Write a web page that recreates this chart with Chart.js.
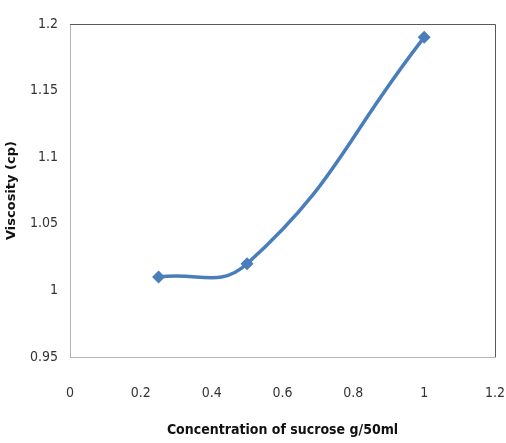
<!DOCTYPE html>
<html>
<head>
<meta charset="utf-8">
<script src="https://cdn.jsdelivr.net/npm/chart.js@4"></script>
<style>
  html, body { margin: 0; padding: 0; background: #fff; }
  #wrap { width: 506px; height: 443px; }
</style>
</head>
<body>
<div id="wrap"><canvas id="viscChart" width="506" height="443"></canvas></div>
<script>
const concentration = [0.25, 0.5, 1];
const viscosity = [1.01, 1.02, 1.19];
const xTicks = [0, 0.2, 0.4, 0.6, 0.8, 1, 1.2];
const yTicks = [0.95, 1, 1.05, 1.1, 1.15, 1.2];

const lineColor = '#4a7ebb';
const tickFont = { family: 'DejaVu Sans Condensed, Liberation Sans', size: 14 };

// dark border on top and right of plot area, like the Excel chart
const plotBorder = {
    id: 'plotBorder',
    afterDraw(chart) {
        const a = chart.chartArea;
        const ctx = chart.ctx;
        ctx.save();
        ctx.strokeStyle = '#595959';
        ctx.lineWidth = 1;
        ctx.beginPath();
        ctx.moveTo(a.left, a.top + 0.5);
        ctx.lineTo(a.right + 0.5, a.top + 0.5);
        ctx.lineTo(a.right + 0.5, a.bottom);
        ctx.stroke();
        ctx.restore();
    }
};

window.onload = () => {
    const ctx = document.getElementById('viscChart').getContext('2d');
    new Chart(ctx, {
        type: 'line',
        data: {
            datasets: [{
                label: 'Viscosity',
                data: concentration.map((x, i) => ({ x: x, y: viscosity[i] })),
                borderColor: lineColor,
                backgroundColor: lineColor,
                borderWidth: 3.5,
                tension: 0.45,
                pointStyle: 'rectRot',
                pointRadius: 6.5,
                pointBorderWidth: 0,
                fill: false
            }]
        },
        options: {
            responsive: false,
            animation: false,
            layout: { padding: { top: 24, right: 11, left: 0, bottom: 0 } },
            plugins: {
                legend: { display: false },
                tooltip: { enabled: false }
            },
            scales: {
                x: {
                    type: 'linear',
                    min: 0,
                    max: 1.2,
                    afterBuildTicks: axis => { axis.ticks = xTicks.map(v => ({ value: v })); },
                    afterFit: axis => {
                        axis.height = 86;
                        axis.paddingLeft = 0;
                        axis.paddingRight = 0;
                    },
                    grid: { display: false, drawTicks: false },
                    border: { color: '#b3b3b3', width: 1 },
                    ticks: {
                        padding: 28,
                        color: '#333',
                        font: tickFont,
                        callback: v => String(v)
                    },
                    title: {
                        display: true,
                        text: 'Concentration of sucrose g/50ml',
                        color: '#111',
                        padding: { top: 14 },
                        font: { family: 'DejaVu Sans Condensed, Liberation Sans', size: 14, weight: 'bold' }
                    }
                },
                y: {
                    min: 0.95,
                    max: 1.2,
                    afterBuildTicks: axis => { axis.ticks = yTicks.map(v => ({ value: v })); },
                    afterFit: axis => {
                        axis.width = 70;
                        axis.paddingTop = 0;
                        axis.paddingBottom = 0;
                    },
                    grid: { display: false, drawTicks: false },
                    border: { color: '#b3b3b3', width: 1 },
                    ticks: {
                        padding: 12,
                        color: '#333',
                        font: tickFont,
                        callback: v => String(v)
                    },
                    title: {
                        display: true,
                        text: 'Viscosity (cp)',
                        color: '#111',
                        padding: { bottom: 0 },
                        font: { family: 'DejaVu Sans', size: 13, weight: 'bold' }
                    }
                }
            }
        },
        plugins: [plotBorder]
    });
};
</script>
</body>
</html>
